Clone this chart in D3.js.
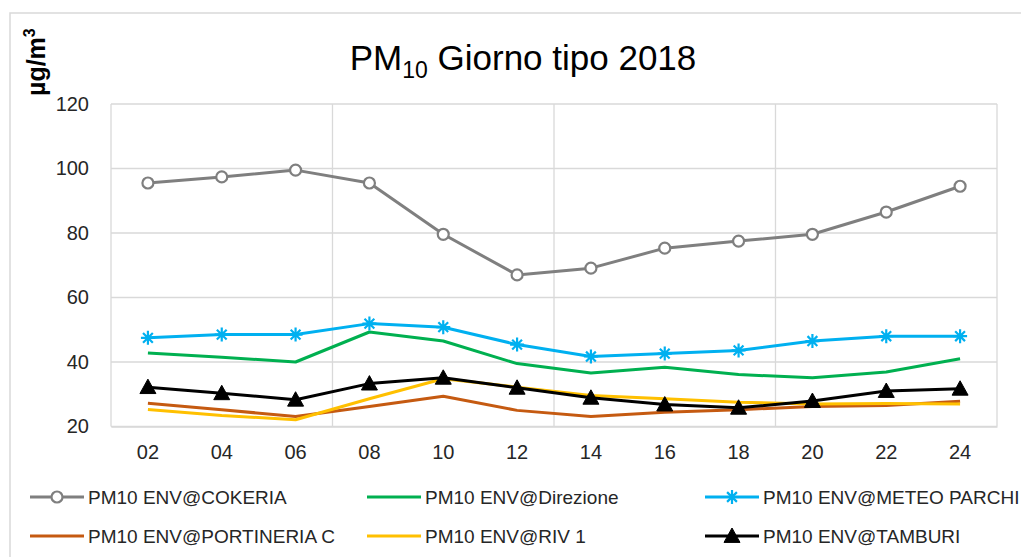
<!DOCTYPE html>
<html>
<head>
<meta charset="utf-8">
<script src="https://cdn.jsdelivr.net/npm/d3@7"></script>
<style>
  html, body { margin: 0; padding: 0; background: #fff; }
  svg { display: block; font-family: "Liberation Sans", Arial, sans-serif; }
</style>
</head>
<body>
<svg id="chart" width="1021" height="557"></svg>
<script>
const hours = ["02","04","06","08","10","12","14","16","18","20","22","24"];
const yTicks = [20, 40, 60, 80, 100, 120];

const seriesNames = [
  "PM10 ENV@COKERIA",
  "PM10 ENV@Direzione",
  "PM10 ENV@METEO PARCHI",
  "PM10 ENV@PORTINERIA C",
  "PM10 ENV@RIV 1",
  "PM10 ENV@TAMBURI"
];
const cokeria     = [95.5, 97.4, 99.5, 95.5, 79.6, 67.0, 69.1, 75.3, 77.5, 79.6, 86.5, 94.5];
const direzione   = [42.8, 41.5, 40.0, 49.3, 46.5, 39.5, 36.6, 38.4, 36.1, 35.1, 36.9, 41.0];
const meteoParchi = [47.5, 48.5, 48.5, 51.9, 50.8, 45.4, 41.7, 42.6, 43.6, 46.5, 48.0, 48.0];
const portineria  = [27.2, 25.2, 23.1, 26.2, 29.4, 25.0, 23.1, 24.4, 25.2, 26.2, 26.5, 27.8];
const riv1        = [25.3, 23.4, 22.1, 28.6, 34.8, 32.2, 29.6, 28.6, 27.5, 27.0, 27.1, 27.0];
const tamburi     = [32.2, 30.3, 28.3, 33.3, 35.1, 32.0, 28.9, 26.8, 25.8, 27.9, 31.0, 31.7];

const seriesValues = [cokeria, direzione, meteoParchi, portineria, riv1, tamburi];
const seriesColors = ["#7f7f7f", "#00b050", "#00b0f0", "#c55a11", "#ffc000", "#000000"];
const seriesMarkers = ["circle", "none", "asterisk", "none", "none", "triangle"];

const svg = d3.select("#chart");
const plot = { left: 111, right: 997, top: 104, bottom: 426.5 };

// outer chart border
svg.append("rect")
  .attr("x", 10).attr("y", 13).attr("width", 1030).attr("height", 560)
  .attr("fill", "none").attr("stroke", "#d9d9d9").attr("stroke-width", 1.5);

const x = d3.scaleBand().domain(hours).range([plot.left, plot.right]).padding(0);
const y = d3.scaleLinear().domain([20, 120]).range([plot.bottom, plot.top]);

// horizontal grid
svg.append("g").selectAll("line").data(yTicks).join("line")
  .attr("x1", plot.left).attr("x2", plot.right)
  .attr("y1", d => y(d)).attr("y2", d => y(d))
  .attr("stroke", "#d9d9d9").attr("stroke-width", 1.3);

// vertical grid every 3 categories
const vIdx = [0, 3, 6, 9];
svg.append("g").selectAll("line").data(vIdx).join("line")
  .attr("x1", d => x(hours[d])).attr("x2", d => x(hours[d]))
  .attr("y1", plot.top).attr("y2", plot.bottom)
  .attr("stroke", "#d9d9d9").attr("stroke-width", 1.3);
svg.append("line")
  .attr("x1", plot.right).attr("x2", plot.right)
  .attr("y1", plot.top).attr("y2", plot.bottom)
  .attr("stroke", "#d9d9d9").attr("stroke-width", 1.3);

// y axis labels
const yAxis = d3.axisLeft(y).tickValues(yTicks).tickSize(0).tickPadding(22);
const gy = svg.append("g").attr("transform", `translate(${plot.left},0)`).call(yAxis);
gy.select(".domain").remove();
gy.selectAll("text").attr("font-size", 20).attr("fill", "#262626")
  .attr("font-family", "Liberation Sans, Arial, sans-serif");

// x axis labels
const xAxis = d3.axisBottom(x).tickSize(0).tickPadding(18);
const gx = svg.append("g").attr("transform", `translate(0,${plot.bottom})`).call(xAxis);
gx.select(".domain").attr("stroke", "#d9d9d9").attr("stroke-width", 1.3);
gx.selectAll("text").attr("font-size", 20).attr("fill", "#262626")
  .attr("font-family", "Liberation Sans, Arial, sans-serif");

// title
const title = svg.append("text").attr("x", 523).attr("y", 70)
  .attr("text-anchor", "middle").attr("font-size", 35).attr("fill", "#000");
title.append("tspan").text("PM");
title.append("tspan").text("10").attr("font-size", 23).attr("dy", 8);
title.append("tspan").text(" Giorno tipo 2018").attr("dy", -8);

// y axis title
const yt = svg.append("text").attr("transform", "translate(45,96) rotate(-90)")
  .attr("font-size", 25).attr("font-weight", "bold").attr("fill", "#000");
yt.append("tspan").text("µg/m");
yt.append("tspan").text("3").attr("font-size", 16).attr("dy", -10);

const cx = d => x(d) + x.bandwidth() / 2;

function drawMarker(g, type, color, px, py) {
  if (type === "circle") {
    g.append("circle").attr("cx", px).attr("cy", py).attr("r", 5.5)
      .attr("fill", "#fff").attr("stroke", color).attr("stroke-width", 2.2);
  } else if (type === "asterisk") {
    const r = 7;
    const p = d3.path();
    p.moveTo(px - r, py); p.lineTo(px + r, py);
    p.moveTo(px - r * 0.7, py - r * 0.7); p.lineTo(px + r * 0.7, py + r * 0.7);
    p.moveTo(px - r * 0.7, py + r * 0.7); p.lineTo(px + r * 0.7, py - r * 0.7);
    p.moveTo(px, py - r); p.lineTo(px, py + r);
    g.append("path").attr("d", p.toString()).attr("stroke", color)
      .attr("stroke-width", 2.2).attr("fill", "none");
  } else if (type === "triangle") {
    const s = 8;
    g.append("path")
      .attr("d", `M${px},${py - s}L${px + s},${py + s * 0.8}L${px - s},${py + s * 0.8}Z`)
      .attr("fill", color).attr("stroke", color).attr("stroke-width", 1);
  }
}

const line = d3.line().x((d, i) => cx(hours[i])).y(d => y(d));

seriesValues.forEach((vals, si) => {
  const g = svg.append("g");
  g.append("path").datum(vals).attr("d", line)
    .attr("fill", "none").attr("stroke", seriesColors[si])
    .attr("stroke-width", 3).attr("stroke-linejoin", "round");
  if (seriesMarkers[si] !== "none") {
    vals.forEach((v, i) => drawMarker(g, seriesMarkers[si], seriesColors[si], cx(hours[i]), y(v)));
  }
});

// legend
const legCols = [30, 367, 705];
const legRows = [497, 536];
seriesNames.forEach((name, i) => {
  const lx = legCols[i % 3], ly = legRows[Math.floor(i / 3)];
  const g = svg.append("g");
  g.append("line").attr("x1", lx).attr("x2", lx + 54).attr("y1", ly).attr("y2", ly)
    .attr("stroke", seriesColors[i]).attr("stroke-width", 3);
  if (seriesMarkers[i] !== "none") {
    drawMarker(g, seriesMarkers[i], seriesColors[i], lx + 27, ly);
  }
  g.append("text").attr("x", lx + 58).attr("y", ly + 7)
    .attr("font-size", 19).attr("fill", "#262626").text(name);
});
</script>
</body>
</html>
